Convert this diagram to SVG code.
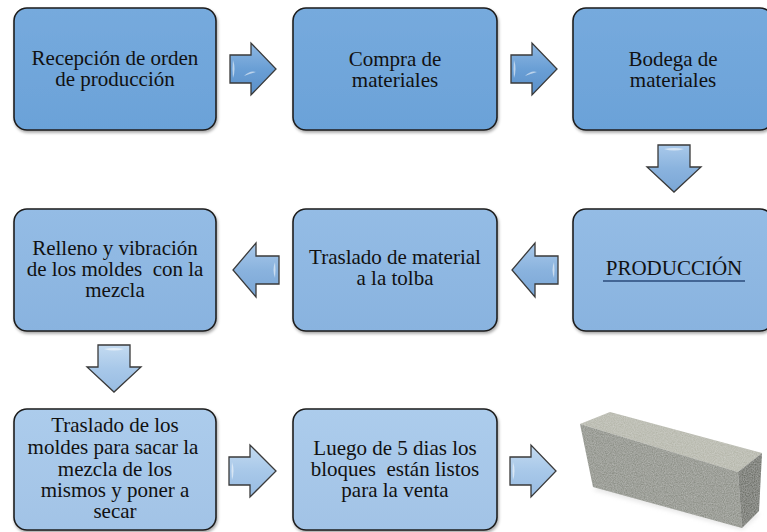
<svg xmlns="http://www.w3.org/2000/svg" width="767" height="532" viewBox="0 0 767 532">
<defs>
<style>
.box{stroke:#1e1e1e;stroke-width:1.6}
.hl{stroke:url(#hlg);stroke-width:3;stroke-linecap:round}
.arr{stroke:#3a3a3a;stroke-width:1.3;stroke-linejoin:miter}
.t{font-family:'Liberation Serif','Times New Roman',serif;font-size:21px;fill:#111;text-anchor:middle}
</style>
<linearGradient id="g1" x1="0" y1="0" x2="0" y2="1"><stop offset="0" stop-color="#76aadd"/><stop offset="1" stop-color="#6ba2d8"/></linearGradient>
<linearGradient id="g2" x1="0" y1="0" x2="0" y2="1"><stop offset="0" stop-color="#94bce5"/><stop offset="1" stop-color="#89b3df"/></linearGradient>
<linearGradient id="g3" x1="0" y1="0" x2="0" y2="1"><stop offset="0" stop-color="#acccec"/><stop offset="1" stop-color="#a2c3e6"/></linearGradient>
<linearGradient id="a1" x1="0" y1="0" x2="0" y2="1"><stop offset="0" stop-color="#8fb8e2"/><stop offset="0.5" stop-color="#6a9fd5"/><stop offset="1" stop-color="#5a8fc8"/></linearGradient>
<linearGradient id="a2" x1="0" y1="0" x2="0" y2="1"><stop offset="0" stop-color="#a9c9ea"/><stop offset="0.5" stop-color="#8ab3de"/><stop offset="1" stop-color="#7aa6d6"/></linearGradient>
<linearGradient id="a3" x1="0" y1="0" x2="0" y2="1"><stop offset="0" stop-color="#c4dbf1"/><stop offset="0.5" stop-color="#a8c8e9"/><stop offset="1" stop-color="#98bce2"/></linearGradient>
<linearGradient id="hlg" x1="0" y1="0" x2="0" y2="1"><stop offset="0" stop-color="#ffffff" stop-opacity="0.2"/><stop offset="0.5" stop-color="#ffffff" stop-opacity="0.95"/><stop offset="1" stop-color="#ffffff" stop-opacity="0.2"/></linearGradient>
<filter id="sh" x="-10%" y="-10%" width="120%" height="125%"><feDropShadow dx="1" dy="2" stdDeviation="1.5" flood-color="#000" flood-opacity="0.35"/></filter>
<filter id="noise" x="0" y="0" width="100%" height="100%">
<feTurbulence type="fractalNoise" baseFrequency="0.9" numOctaves="2" seed="3" result="n"/>
<feColorMatrix in="n" type="matrix" values="0 0 0 0 1  0 0 0 0 1  0 0 0 0 1  0 0 0 0.35 -0.05" result="m"/>
<feComposite in="m" in2="SourceGraphic" operator="in" result="c"/>
<feMerge><feMergeNode in="SourceGraphic"/><feMergeNode in="c"/></feMerge>
</filter>
<filter id="blur"><feGaussianBlur stdDeviation="2"/></filter>
</defs>
<rect width="767" height="532" fill="#ffffff"/>

<g id="connectors">
<path class="arr" fill="url(#a1)" d="M230,55 H251 V43 L276,69 L251,95 V83 H230 Z"/>
<path class="arr" fill="url(#a1)" d="M511,55 H532 V43 L557,69 L532,95 V83 H511 Z"/>
<path class="arr" fill="url(#a2)" d="M658,145 H690 V167 H701 L674,192 L647,167 H658 Z"/>
<path class="arr" fill="url(#a2)" d="M558,256 H535 V243 L512,270 L535,297 V284 H558 Z"/>
<path class="arr" fill="url(#a2)" d="M279,256 H256 V243 L233,270 L256,297 V284 H279 Z"/>
<path class="arr" fill="url(#a3)" d="M98,345 H130 V367 H141 L114,392 L87,367 H98 Z"/>
<path class="arr" fill="url(#a3)" d="M229,457 H250 V445 L276,471 L250,497 V485 H229 Z"/>
<path class="arr" fill="url(#a3)" d="M510,457 H531 V445 L556,471 L531,497 V485 H510 Z"/>
<g fill="#ffffff" opacity="0.55">
<path d="M233,60 q3,9 0,18 q-1,-9 0,-18z"/><path d="M514,60 q3,9 0,18 q-1,-9 0,-18z"/>
<path d="M244,76 q6,-6 12,-4 q-7,2 -12,4z"/><path d="M525,76 q6,-6 12,-4 q-7,2 -12,4z"/>
<path d="M664,149 q10,3 20,0 q-10,-2 -20,0z"/><path d="M104,349 q10,3 20,0 q-10,-2 -20,0z"/>
<path d="M554,262 q-3,8 0,16 q1,-8 0,-16z"/><path d="M275,262 q-3,8 0,16 q1,-8 0,-16z"/>
<path d="M232,462 q3,9 0,18 q-1,-9 0,-18z"/><path d="M513,462 q3,9 0,18 q-1,-9 0,-18z"/>
</g>
</g>

<g id="n1"><rect class="box" filter="url(#sh)" x="14" y="8" width="202" height="122" rx="13" fill="url(#g1)"/><line class="hl" x1="21" y1="20" x2="21" y2="118"/><line class="hl" x1="209" y1="20" x2="209" y2="118"/>
<text class="t" x="115" y="65">Recepción de orden</text><text class="t" x="115" y="86">de producción</text></g>

<g id="n2"><rect class="box" filter="url(#sh)" x="293" y="8" width="204" height="122" rx="13" fill="url(#g1)"/><line class="hl" x1="300" y1="20" x2="300" y2="118"/><line class="hl" x1="490" y1="20" x2="490" y2="118"/>
<text class="t" x="395" y="66">Compra de</text><text class="t" x="395" y="87">materiales</text></g>

<g id="n3"><rect class="box" filter="url(#sh)" x="573" y="8" width="200" height="122" rx="13" fill="url(#g1)"/><line class="hl" x1="580" y1="20" x2="580" y2="118"/>
<text class="t" x="673" y="66">Bodega de</text><text class="t" x="673" y="87">materiales</text></g>

<g id="n4"><rect class="box" filter="url(#sh)" x="573" y="209" width="200" height="122" rx="13" fill="url(#g2)"/><line class="hl" x1="580" y1="221" x2="580" y2="319"/>
<text class="t" x="674" y="275">PRODUCCIÓN</text><line x1="603" y1="281" x2="745" y2="281" stroke="#2a4a7a" stroke-width="1.3"/></g>

<g id="n5"><rect class="box" filter="url(#sh)" x="293" y="209" width="204" height="122" rx="13" fill="url(#g2)"/><line class="hl" x1="300" y1="221" x2="300" y2="319"/><line class="hl" x1="490" y1="221" x2="490" y2="319"/>
<text class="t" x="395" y="264">Traslado de material</text><text class="t" x="395" y="285">a la tolba</text></g>

<g id="n6"><rect class="box" filter="url(#sh)" x="14" y="209" width="202" height="122" rx="13" fill="url(#g2)"/><line class="hl" x1="21" y1="221" x2="21" y2="319"/><line class="hl" x1="209" y1="221" x2="209" y2="319"/>
<text class="t" x="115" y="255">Relleno y vibración</text><text class="t" x="115" y="276" xml:space="preserve">de los moldes  con la</text><text class="t" x="115" y="297">mezcla</text></g>

<g id="n7"><rect class="box" filter="url(#sh)" x="14" y="409" width="202" height="121" rx="13" fill="url(#g3)"/><line class="hl" x1="21" y1="421" x2="21" y2="518"/><line class="hl" x1="209" y1="421" x2="209" y2="518"/>
<text class="t" x="115" y="432">Traslado de los</text><text class="t" x="113" y="454">moldes para sacar la</text><text class="t" x="115" y="476">mezcla de los</text><text class="t" x="115" y="497">mismos y poner a</text><text class="t" x="115" y="518">secar</text></g>

<g id="n8"><rect class="box" filter="url(#sh)" x="293" y="409" width="204" height="121" rx="13" fill="url(#g3)"/><line class="hl" x1="300" y1="421" x2="300" y2="518"/><line class="hl" x1="490" y1="421" x2="490" y2="518"/>
<text class="t" x="395" y="455">Luego de 5 dias los</text><text class="t" x="395" y="476" xml:space="preserve">bloques  están listos</text><text class="t" x="395" y="497">para la venta</text></g>

<g id="block">
<polygon points="593,490 742,530 760,514 610,478" fill="#d8d8d8" filter="url(#blur)" opacity="0.6"/>
<polygon points="580,424 610,412 762,453 738,472" fill="#b4b5a9" filter="url(#noise)"/>
<polygon points="580,424 738,472 742,528 593,487" fill="#8a8d84" filter="url(#noise)"/>
<polygon points="738,472 762,453 759,511 742,528" fill="#696c64" filter="url(#noise)"/>
</g>
</svg>
